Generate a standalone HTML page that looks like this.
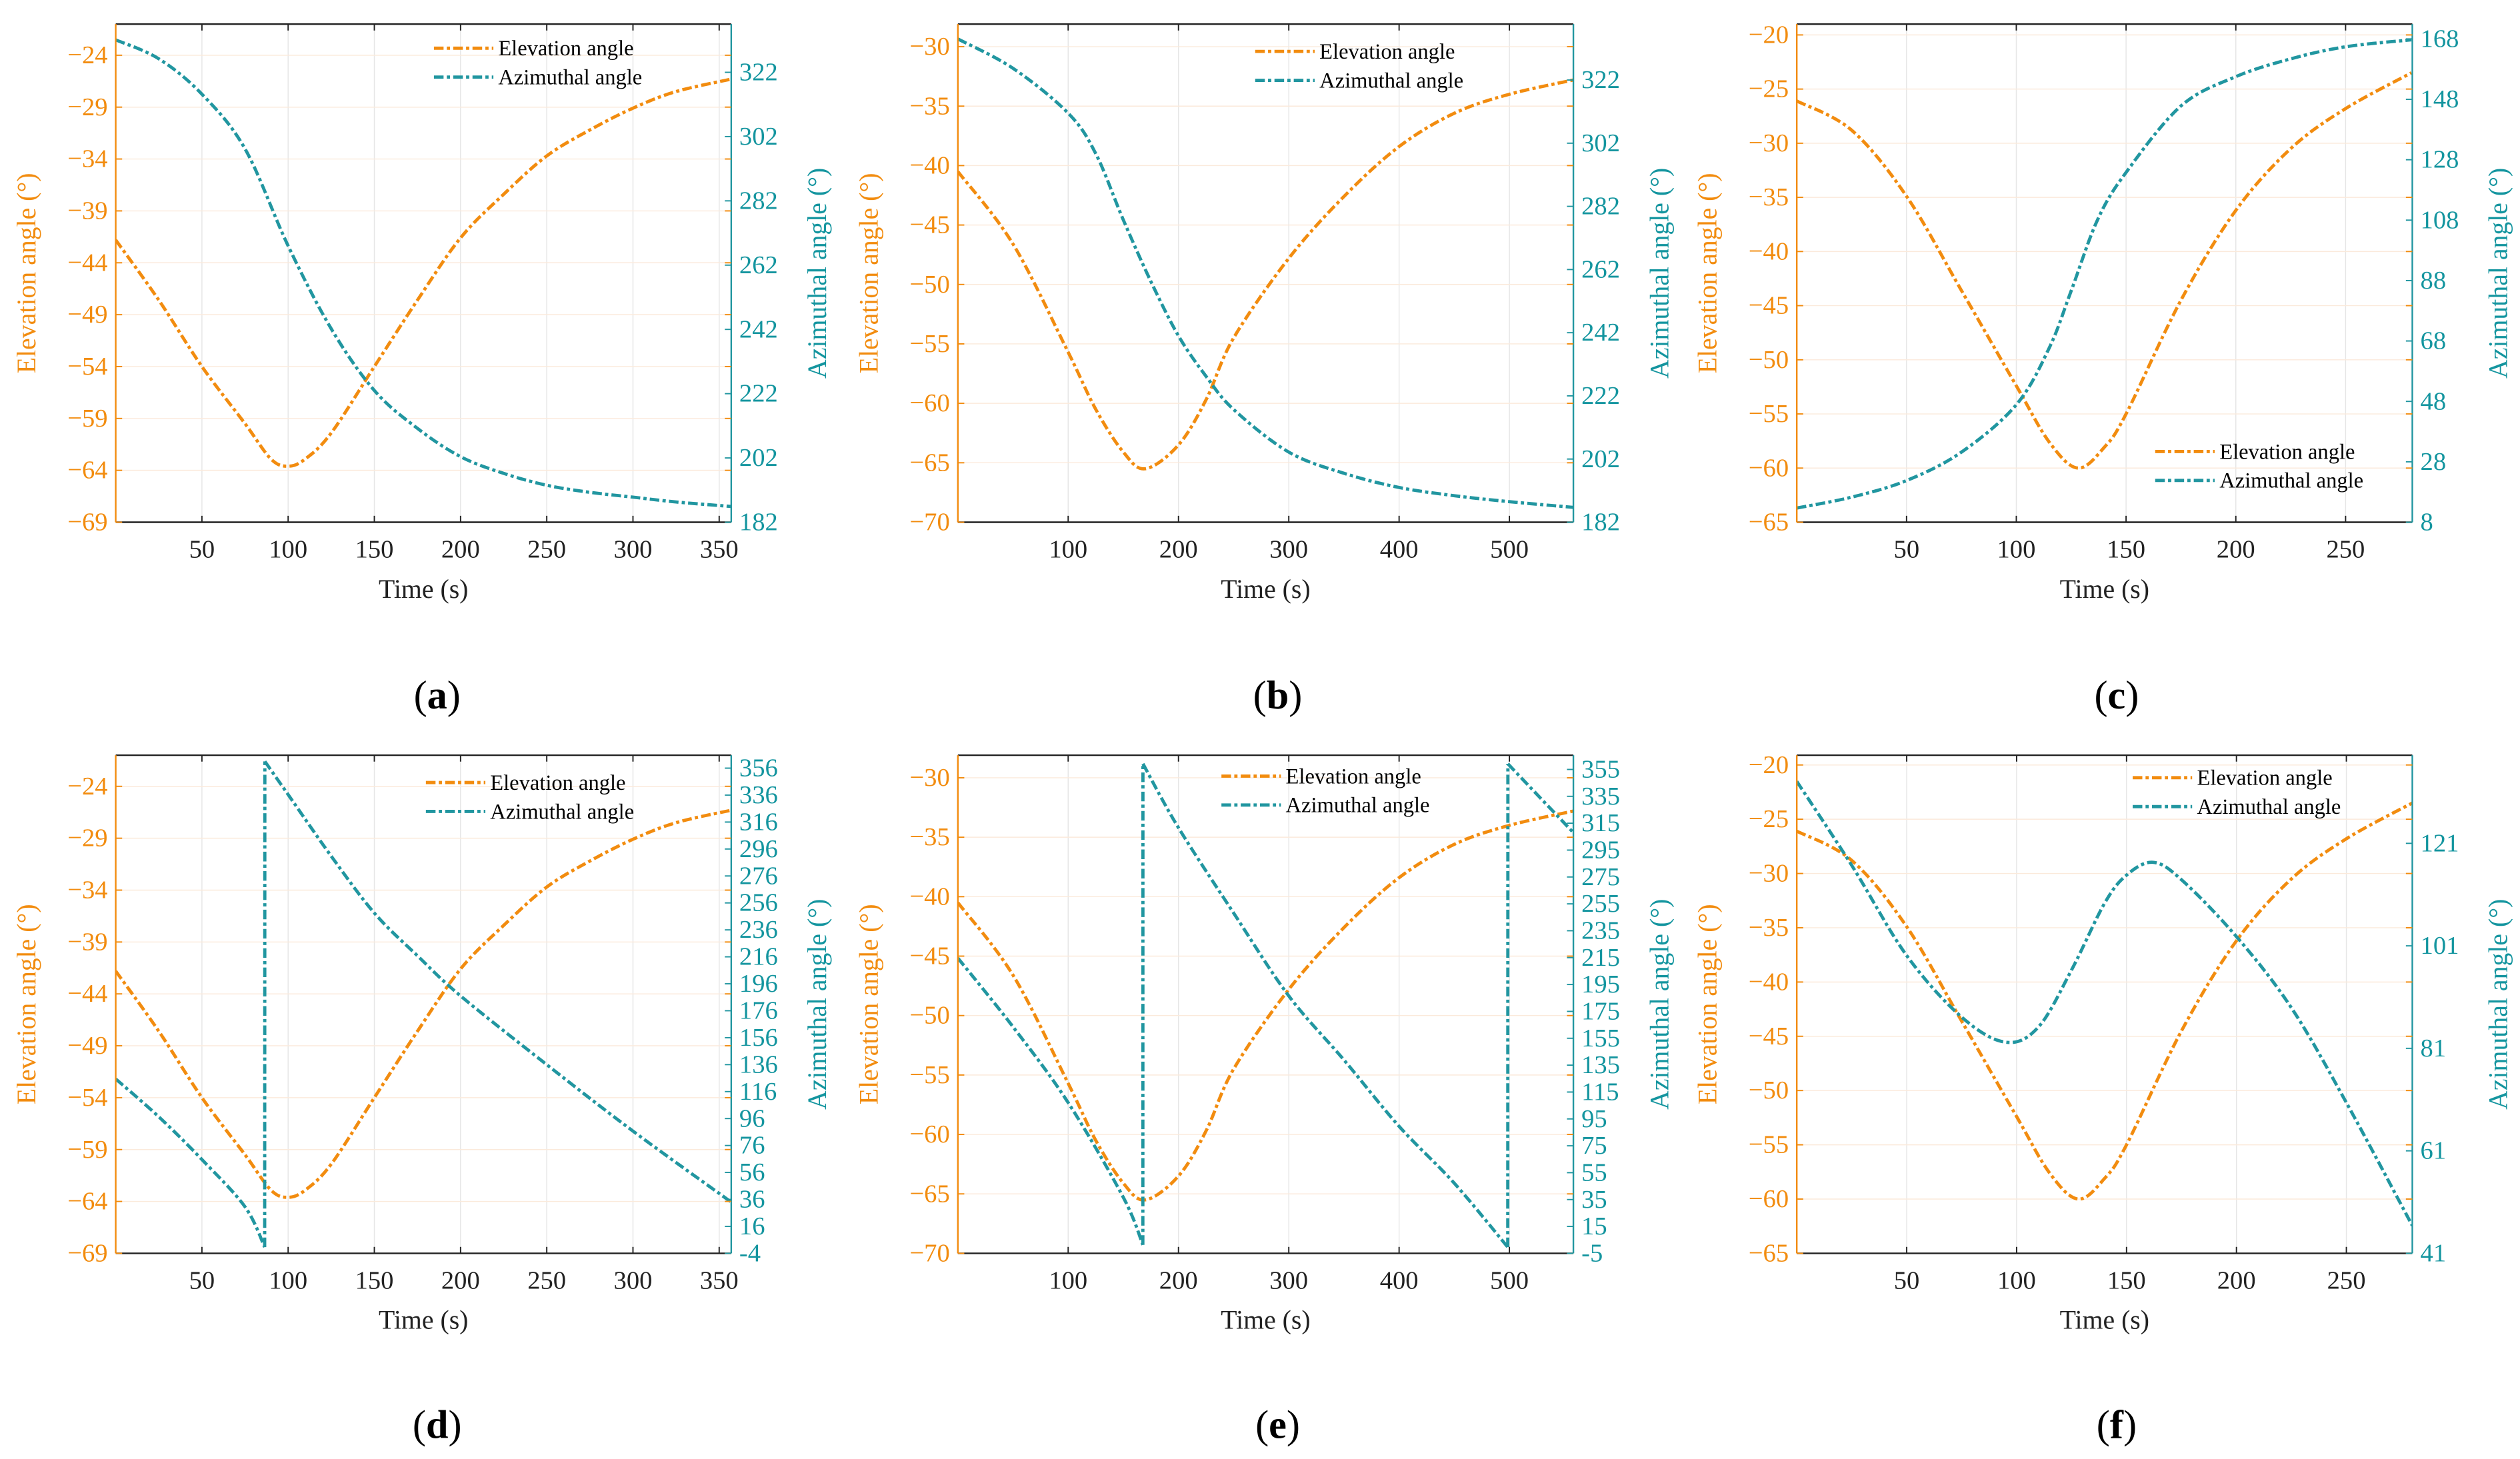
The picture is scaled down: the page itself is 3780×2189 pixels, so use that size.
<!DOCTYPE html>
<html><head><meta charset="utf-8"><style>
html,body{margin:0;padding:0;background:#fff;}
svg{display:block;font-family:"Liberation Serif",serif;}
</style></head><body>
<svg id="fig" width="3780" height="2189" viewBox="0 0 1568 908" preserveAspectRatio="none" xmlns="http://www.w3.org/2000/svg"></svg>
<script>
// ---- data (time in s, angles in degrees) ----
const tA = [0,25,50,75,90,100,110,125,150,175,200,225,250,275,300,325,357];
const elevA = [-41.8,-47.6,-54.0,-59.5,-62.9,-63.6,-62.9,-60.4,-54.0,-47.6,-41.6,-37.4,-33.7,-31.2,-29.1,-27.5,-26.3];
const tAzA = [0,25,50,75,100,125,150,175,200,225,250,275,300,325,357];
const azA = [332.1,326.2,315.2,298.2,268,242.2,223,211.2,202.4,197.2,193.5,191.3,189.8,188.3,186.9];

const tB = [0,50,100,125,150,170,200,225,250,300,350,400,450,500,558];
const elevB = [-40.5,-46.6,-55.7,-60.5,-64.1,-65.5,-63.5,-59.7,-54.5,-47.8,-42.6,-38.4,-35.6,-34.0,-32.8];
const tAzB = [0,50,100,125,150,175,200,225,250,300,350,400,450,500,558];
const azB = [335,325.7,311.5,298.7,277.7,258.2,241,228.2,217.7,204.2,197.5,193,190.4,188.5,186.7];

const tC = [0,25,50,75,100,115,128,140,150,175,200,225,250,280];
const elevC = [-26.1,-28.8,-34.9,-43.6,-52.4,-57.6,-60,-58.1,-55,-44.5,-36.2,-30.5,-26.8,-23.5];
const tAzC = [0,25,50,75,100,115,125,137,150,175,200,225,250,280];
const azC = [12.7,16.3,21.8,31.2,46.9,65.7,84.6,108.1,123.8,145.8,155.5,161.4,165.4,167.7];

const tAzD = [0,25,50,75,86.4,86.5,100,125,150,175,200,250,300,357];
const azD = [125.4,97.3,65.6,30.5,0.6,361,336.4,290.7,248.5,216.8,187,136,86.7,34];

const tAzE = [0,50,100,150,167.7,167.8,200,250,300,350,400,450,498.5,498.6,558];
const azE = [214.7,163.5,107.1,36.6,1.3,359.2,311.6,248.2,186.5,138.9,89.5,47.2,-0.4,359.2,308];

const tAzF = [0,25,50,75,95,110,125,140,150,162,175,200,225,250,280];
const azF = [133.1,116.7,99.1,87.1,82.2,85.2,96.3,109.3,114.8,117.3,113.9,102.8,88.9,70.4,46.4];

const ticksX_A = [50,100,150,200,250,300,350];
const ticksX_B = [100,200,300,400,500];
const ticksX_C = [50,100,150,200,250];
const ticksL_A = [-69,-64,-59,-54,-49,-44,-39,-34,-29,-24];
const ticksL_B = [-70,-65,-60,-55,-50,-45,-40,-35,-30];
const ticksL_C = [-65,-60,-55,-50,-45,-40,-35,-30,-25,-20];
const ticksR_A = [182,202,222,242,262,282,302,322];
const ticksR_C = [8,28,48,68,88,108,128,148,168];
const ticksR_D = [-4,16,36,56,76,96,116,136,156,176,196,216,236,256,276,296,316,336,356];
const ticksR_E = [-5,15,35,55,75,95,115,135,155,175,195,215,235,255,275,295,315,335,355];
const ticksR_F = [41,61,81,101,121];

const OR = '#F28C0F', TE = '#2196A0', TT = '#14959F';
const NS = 'http://www.w3.org/2000/svg';
const svg = document.getElementById('fig');
function el(tag, attrs, parent, text){
  const e = document.createElementNS(NS, tag);
  for (const k in attrs) e.setAttribute(k, attrs[k]);
  if (text !== undefined) e.textContent = text;
  (parent||svg).appendChild(e);
  return e;
}
// smooth path, split at jumps (near-identical times)
function smoothPath(P){
  const segs = []; let cur = [P[0]];
  for (let i=1;i<P.length;i++){
    if (Math.abs(P[i][0]-P[i-1][0]) < 1) { segs.push(cur); cur = [P[i-1], P[i]]; segs.push(cur); cur = [P[i]]; }
    else cur.push(P[i]);
  }
  segs.push(cur);
  let d = '';
  segs.forEach(s => {
    if (s.length < 2) return;
    d += 'M' + s[0][0].toFixed(2) + ',' + s[0][1].toFixed(2);
    for (let i=0;i<s.length-1;i++){
      const p0 = s[i-1]||s[i], p1 = s[i], p2 = s[i+1], p3 = s[i+2]||s[i+1];
      const c1 = [p1[0]+(p2[0]-p0[0])/6, p1[1]+(p2[1]-p0[1])/6];
      const c2 = [p2[0]-(p3[0]-p1[0])/6, p2[1]-(p3[1]-p1[1])/6];
      d += 'C'+c1[0].toFixed(2)+','+c1[1].toFixed(2)+' '+c2[0].toFixed(2)+','+c2[1].toFixed(2)+' '+p2[0].toFixed(2)+','+p2[1].toFixed(2);
    }
  });
  return d;
}
const panels = [
 {id:'a',x0:72,y0:15,xmax:357,lmin:-69,lmax:-21,rmin:182,rmax:337,tx:ticksX_A,tl:ticksL_A,tr:ticksR_A,te:tA,ev:elevA,ta:tAzA,av:azA,leg:[270,30],label:272,ly:432},
 {id:'b',x0:596,y0:15,xmax:558,lmin:-70,lmax:-28.1,rmin:182,rmax:339.7,tx:ticksX_B,tl:ticksL_B,tr:ticksR_A,te:tB,ev:elevB,ta:tAzB,av:azB,leg:[781,32],label:795,ly:432},
 {id:'c',x0:1118,y0:15,xmax:280.4,lmin:-65,lmax:-19,rmin:8,rmax:172.9,tx:ticksX_C,tl:ticksL_C,tr:ticksR_C,te:tC,ev:elevC,ta:tAzC,av:azC,leg:[1341,281],label:1317,ly:432},
 {id:'d',x0:72,y0:470,xmax:357,lmin:-69,lmax:-21,rmin:-4,rmax:365.6,tx:ticksX_A,tl:ticksL_A,tr:ticksR_D,te:tA,ev:elevA,ta:tAzD,av:azD,leg:[265,487],label:272,ly:886},
 {id:'e',x0:596,y0:470,xmax:558,lmin:-70,lmax:-28.1,rmin:-5,rmax:365.6,tx:ticksX_B,tl:ticksL_B,tr:ticksR_E,te:tB,ev:elevB,ta:tAzE,av:azE,leg:[760,483],label:795,ly:886},
 {id:'f',x0:1118,y0:470,xmax:280,lmin:-65,lmax:-19.1,rmin:41,rmax:138.2,tx:ticksX_C,tl:ticksL_C,tr:ticksR_F,te:tC,ev:elevC,ta:tAzF,av:azF,leg:[1327,484],label:1317,ly:886}
];
const W = 383, H = 310;
panels.forEach(p => {
  const g = el('g', {});
  
  
  const X = t => p.x0 + t / p.xmax * W;
  const YL = v => p.y0 + H - (v - p.lmin) / (p.lmax - p.lmin) * H;
  const YR = v => p.y0 + H - (v - p.rmin) / (p.rmax - p.rmin) * H;
  const bot = p.y0 + H, right = p.x0 + W;
  p.tx.forEach(t => {
    const l = el('line', {x1:X(t),x2:X(t),y1:p.y0,y2:bot,stroke:'#e6e6e6','stroke-width':0.6}, g);
    
    
  });
  p.tl.forEach(v => {
    const l = el('line', {x1:p.x0,x2:right,y1:YL(v),y2:YL(v),stroke:'#fbeadb','stroke-width':0.6}, g);
    
    
  });
  const cp = el('clipPath', {id:'clip'+p.id}, g);
  el('rect', {x:p.x0,y:p.y0,width:W,height:H}, cp);
  const pts = (ts, vs, Y) => ts.map((t,i) => [X(t), Y(vs[i])]);
  const le = el('path', {d:smoothPath(pts(p.te,p.ev,YL)),fill:'none',stroke:OR,'stroke-width':2,'stroke-dasharray':'6 2 2 2','stroke-linejoin':'round','clip-path':'url(#clip'+p.id+')'}, g);
  
  
  const la = el('path', {d:smoothPath(pts(p.ta,p.av,YR)),fill:'none',stroke:TE,'stroke-width':2,'stroke-dasharray':'6 2 2 2','stroke-linejoin':'round','clip-path':'url(#clip'+p.id+')'}, g);
  
  
  el('line', {x1:p.x0,x2:right,y1:bot,y2:bot,stroke:'#222','stroke-width':1}, g);
  el('line', {x1:p.x0,x2:right,y1:p.y0,y2:p.y0,stroke:'#222','stroke-width':1}, g);
  el('line', {x1:p.x0,x2:p.x0,y1:p.y0,y2:bot,stroke:OR,'stroke-width':1}, g);
  el('line', {x1:right,x2:right,y1:p.y0,y2:bot,stroke:TE,'stroke-width':1}, g);
  p.tx.forEach(t => {
    el('line', {x1:X(t),x2:X(t),y1:bot,y2:bot-4,stroke:'#222','stroke-width':0.8}, g);
    el('line', {x1:X(t),x2:X(t),y1:p.y0,y2:p.y0+4,stroke:'#222','stroke-width':0.8}, g);
    const tx = el('text', {x:X(t),y:bot+22,'font-size':16,'text-anchor':'middle',fill:'#222'}, g, String(t));
    
    
  });
  p.tl.forEach(v => {
    el('line', {x1:p.x0,x2:p.x0+4,y1:YL(v),y2:YL(v),stroke:OR,'stroke-width':0.8}, g);
    el('line', {x1:right,x2:right-4,y1:YL(v),y2:YL(v),stroke:OR,'stroke-width':0.8}, g);
    const tx = el('text', {x:p.x0-5,y:YL(v)+5,'font-size':16,'text-anchor':'end',fill:OR}, g, '\u2212'+Math.abs(v));
    
    
  });
  p.tr.forEach(v => {
    el('line', {x1:right,x2:right-4,y1:YR(v),y2:YR(v),stroke:TE,'stroke-width':0.8}, g);
    const tx = el('text', {x:right+5,y:YR(v)+5,'font-size':16,'text-anchor':'start',fill:TT}, g, String(v));
    
    
  });
  const xt = el('text', {x:p.x0+W/2,y:bot+47,'font-size':16.5,'text-anchor':'middle',fill:'#222'}, g, 'Time  (s)');
  
  
  const cy = p.y0 + H/2;
  const yl = el('text', {x:0,y:0,'font-size':16.5,'text-anchor':'middle',fill:OR,transform:`translate(${p.x0-50},${cy}) rotate(-90)`}, g, 'Elevation angle (°)');
  
  
  const yr = el('text', {x:0,y:0,'font-size':16.5,'text-anchor':'middle',fill:TT,transform:`translate(${right+59},${cy}) rotate(-90)`}, g, 'Azimuthal angle (°)');
  
  
  const [lx, ly] = p.leg;
  const lg = el('g', {}, g);
  
  
  [['Elevation angle',OR,0],['Azimuthal angle',TE,18]].forEach(([name,c,dy]) => {
    el('line', {x1:lx,x2:lx+37,y1:ly+dy,y2:ly+dy,stroke:c,'stroke-width':2,'stroke-dasharray':'6 2 2 2'}, lg);
    const t = el('text', {x:lx+40,y:ly+dy+4.5,'font-size':13.5,fill:'#000'}, lg, name);
    
    
  });
  const pl = el('text', {x:p.label,y:p.ly+9,'font-size':25,'text-anchor':'middle',fill:'#000'}, g);
  
  
  el('tspan', {}, pl, '(');
  el('tspan', {'font-weight':'bold'}, pl, p.id);
  el('tspan', {}, pl, ')');
});
</script>
</body></html>
